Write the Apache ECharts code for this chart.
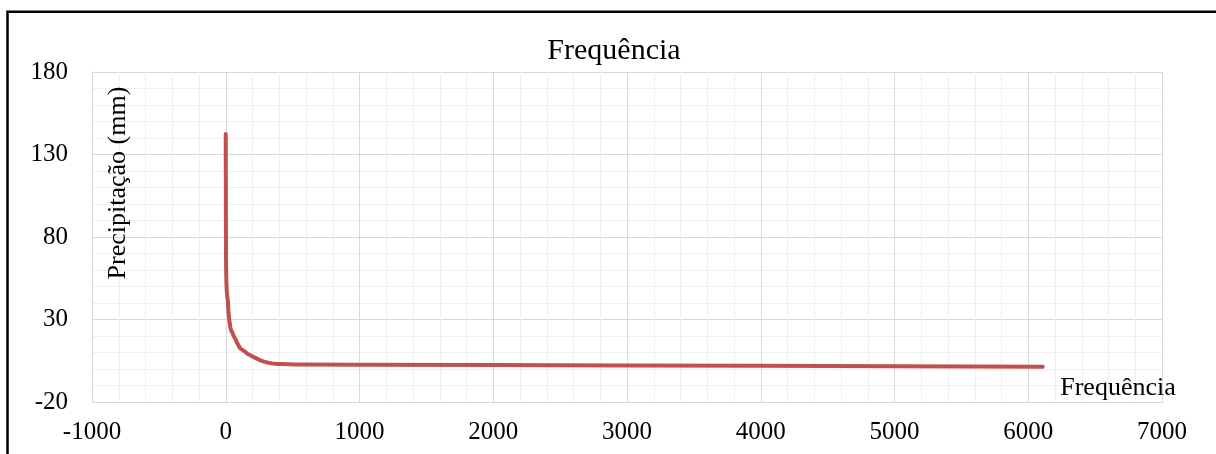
<!DOCTYPE html>
<html>
<head>
<meta charset="utf-8">
<script src="https://cdn.jsdelivr.net/npm/echarts@6/dist/echarts.min.js"></script>
<style>html,body{margin:0;padding:0;background:#fff;}#c{width:1216px;height:454px;}</style>
</head>
<body>
<div id="c"></div>
<script>
const titleText = 'Frequência';
const xName = 'Frequência';
const yName = 'Precipitação (mm)';
const xTicks = { min: -1000, max: 7000, interval: 1000 };
const yTicks = { min: -20, max: 180, interval: 50 };
const freq = [0,0,1,1,2,2,3,4,6,8,11,15,17,18,20,24,26,28,32,33,36,40,44,50,52,56,60,63,66,72,82,84,86,90,96,102,107,115,125,132,144,155,165,180,194,210,225,243,260,280,300,318,345,380,418,518,1000,2000,3000,4000,5000,6108];
const precip = [142.4,128,110,95,80,68,60,55,50,47,44,41.8,40,37,35,31.7,31,28.5,27,25.5,25,23.5,22.6,22,20.8,20.6,19.8,19.5,18.6,18.2,17.6,16,15.5,15,14.2,13.6,12.5,12,11.6,11.2,10.5,9.6,9.1,8.5,7.9,7.2,6.6,5.9,5.2,4.6,4.2,3.8,3.4,3.1,3.0,2.8,2.6,2.35,2.15,1.95,1.7,1.4];

const serif = '"Liberation Serif", "Times New Roman", serif';
const chart = echarts.init(document.getElementById('c'), null, {renderer: 'canvas'});
const data = freq.map((f, i) => [f, precip[i]]);
chart.setOption({
  animation: false,
  backgroundColor: '#fff',
  grid: { left: 92, top: 72, right: 54, bottom: 52, containLabel: false },
  xAxis: {
    type: 'value', min: xTicks.min, max: xTicks.max, interval: xTicks.interval,
    axisLine: { show: true, onZero: false, lineStyle: { color: '#d9d9d9', width: 1 } },
    axisTick: { show: false },
    minorTick: { show: false, splitNumber: 5 },
    axisLabel: { color: '#000', fontFamily: serif, fontSize: 25, margin: 18, formatter: v => String(v) },
    splitLine: { show: true, lineStyle: { color: '#d9d9d9', width: 1 } },
    minorSplitLine: { show: true, lineStyle: { color: '#efefef', width: 1 } }
  },
  yAxis: {
    type: 'value', min: yTicks.min, max: yTicks.max, interval: yTicks.interval,
    axisLine: { show: true, onZero: false, lineStyle: { color: '#d9d9d9', width: 1 } },
    axisTick: { show: false },
    minorTick: { show: false, splitNumber: 5 },
    axisLabel: { color: '#000', fontFamily: serif, fontSize: 25, margin: 24, formatter: v => String(v) },
    splitLine: { show: true, lineStyle: { color: '#d9d9d9', width: 1 } },
    minorSplitLine: { show: true, lineStyle: { color: '#efefef', width: 1 } }
  },
  series: [{
    type: 'line', data: data, showSymbol: false, symbol: 'none',
    lineStyle: { color: '#c0504d', width: 4, cap: 'round', join: 'round' },
    z: 5
  }],
  graphic: [
    { type: 'rect', z: 100, shape: { x: 7.5, y: 11.8, width: 1400, height: 800 }, style: { fill: 'none', stroke: '#000', lineWidth: 2.5 }, silent: true },
    { type: 'text', z: 100, x: 614, y: 51, style: { text: titleText, font: '30px ' + serif, fill: '#000', textAlign: 'center', textVerticalAlign: 'middle' } },
    { type: 'text', z: 100, x: 1118, y: 388, style: { text: xName, font: '26px ' + serif, fill: '#000', textAlign: 'center', textVerticalAlign: 'middle' } },
    { type: 'text', z: 100, x: 118, y: 183, rotation: Math.PI / 2, style: { text: yName, font: '26px ' + serif, fill: '#000', textAlign: 'center', textVerticalAlign: 'middle' } }
  ]
});
</script>
</body>
</html>
